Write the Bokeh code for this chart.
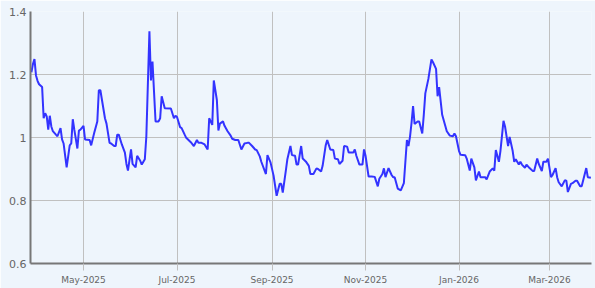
import pandas as pd
from bokeh.plotting import figure
from bokeh.models import Range1d, FixedTicker, DatetimeTickFormatter, CustomJSTickFormatter
from bokeh.embed import file_html
from bokeh.resources import INLINE

start_date = "2025-03-28"

days = [0, 1, 2, 3, 4, 5, 7, 8, 9, 10, 11, 12, 13, 14, 16, 17, 19, 20, 21, 23, 25, 26, 27, 28, 30, 31, 32, 34, 35, 38, 39, 41, 43, 44, 45, 48, 49, 51, 52, 54, 55, 56, 57, 59,
        61, 62, 63, 65, 66, 68, 69, 71, 72, 74, 75, 77, 78, 79, 81, 83, 84, 85, 87, 91, 93, 94, 95, 97, 98, 100, 101, 104, 106, 108, 109, 111, 113, 115, 116, 118, 119,
        121, 122, 123, 125, 126, 128, 130, 131, 133, 135, 137, 139, 141, 142, 144, 146, 147, 149, 150, 153, 154, 156, 158, 160, 162, 163, 164, 166, 167, 169, 170, 172, 173, 174, 176, 177, 179,
        181, 182, 184, 186, 187, 189, 190, 192, 193, 195, 197, 198, 200, 201, 203, 204, 206, 207, 210, 211, 212, 214, 216, 217, 218, 220, 222, 224, 226, 227, 229, 230, 231, 233, 235, 236, 237,
        239, 241, 243, 245, 246, 247, 248, 249, 250, 252, 253, 255, 256, 257, 259, 261, 262, 264, 265, 266, 268, 270, 271, 273, 275, 276, 277, 279, 280, 283, 284, 286, 287, 289, 290, 292, 293, 296, 297,
        299, 301, 302, 303, 305, 306, 308, 309, 311, 312, 314, 315, 316, 318, 319, 320, 322, 323, 325, 327, 328, 330, 331, 333, 334, 336, 337, 339, 340, 342, 343, 344, 346, 348, 349, 350, 352, 353, 355, 356, 358, 359, 360, 362, 363, 365]

values = [1.207, 1.233, 1.249, 1.197, 1.18, 1.169, 1.16, 1.061, 1.077, 1.067, 1.025, 1.069, 1.035, 1.02, 1.009, 1.004, 1.03, 0.994, 0.981, 0.905, 0.975, 0.981, 1.058, 1.025, 0.965, 1.022, 1.025, 1.037, 0.994, 0.992, 0.975, 1.015, 1.051, 1.15, 1.15, 1.061, 1.044, 0.983, 0.981, 0.973, 0.973, 1.009, 1.009, 0.978,
          0.952, 0.916, 0.895, 0.962, 0.916, 0.905, 0.942, 0.926, 0.914, 0.931, 1.004, 1.337, 1.181, 1.241, 1.051, 1.051, 1.061, 1.131, 1.093, 1.092, 1.061, 1.069, 1.065, 1.033, 1.03, 1.009, 0.999, 0.985, 0.973, 0.992, 0.983, 0.983, 0.978, 0.962, 1.061, 1.04, 1.181,
          1.119, 1.022, 1.044, 1.051, 1.037, 1.02, 1.006, 0.996, 0.992, 0.992, 0.962, 0.981, 0.983, 0.983, 0.973, 0.962, 0.96, 0.94, 0.923, 0.884, 0.944, 0.921, 0.879, 0.815, 0.853, 0.853, 0.825, 0.895, 0.931, 0.973, 0.944, 0.942, 0.914, 0.914, 0.973, 0.933, 0.924,
          0.91, 0.884, 0.884, 0.902, 0.9, 0.892, 0.91, 0.975, 0.992, 0.962, 0.96, 0.933, 0.931, 0.916, 0.926, 0.973, 0.971, 0.952, 0.952, 0.962, 0.942, 0.914, 0.914, 0.962, 0.942, 0.876, 0.876, 0.875, 0.845, 0.869, 0.884, 0.902, 0.874, 0.903, 0.881, 0.874, 0.874,
          0.838, 0.832, 0.855, 0.992, 0.973, 1.002, 1.046, 1.1, 1.043, 1.051, 1.051, 1.013, 1.072, 1.14, 1.186, 1.248, 1.239, 1.218, 1.131, 1.16, 1.072, 1.037, 1.02, 1.006, 1.004, 1.013, 1.004, 0.957, 0.945, 0.944, 0.933, 0.895, 0.933, 0.905, 0.864, 0.892, 0.874, 0.874, 0.867,
          0.892, 0.902, 0.895, 0.96, 0.923, 0.957, 1.053, 1.035, 0.973, 1.002, 0.957, 0.923, 0.931, 0.914, 0.923, 0.914, 0.904, 0.914, 0.903, 0.894, 0.894, 0.933, 0.916, 0.893, 0.923, 0.923, 0.933, 0.874, 0.881, 0.903, 0.874, 0.858, 0.845, 0.864, 0.863, 0.827, 0.853, 0.855, 0.863, 0.863, 0.845, 0.845, 0.864, 0.903, 0.874, 0.872]

tick_dates = ["2025-05-01", "2025-07-01", "2025-09-01", "2025-11-01", "2026-01-01", "2026-03-01"]
y_ticks = [0.6, 0.8, 1.0, 1.2, 1.4]

assert len(days) == len(values)

start = pd.Timestamp(start_date)
dates = [(start + pd.Timedelta(days=d)).to_pydatetime() for d in days]

BG = "#eef5fc"
TXT = "#666666"

p = figure(width=595, height=288, x_axis_type="datetime", output_backend="svg",
           toolbar_location=None,
           x_range=Range1d((start - pd.Timedelta(hours=14)).to_pydatetime(),
                           (start + pd.Timedelta(days=365, hours=10)).to_pydatetime()),
           y_range=Range1d(0.6, 1.4),
           min_border_left=30, min_border_right=4, min_border_top=11, min_border_bottom=25)

p.background_fill_color = BG
p.border_fill_color = BG
p.outline_line_color = None

p.line(dates, values, line_color="#3333ff", line_width=2)

tick_ms = [pd.Timestamp(t).value / 1e6 for t in tick_dates]
p.xaxis.ticker = FixedTicker(ticks=tick_ms)
fmt = "%b-%Y"
p.xaxis.formatter = DatetimeTickFormatter(milliseconds=fmt, seconds=fmt, minsec=fmt, minutes=fmt,
                                          hourmin=fmt, hours=fmt, days=fmt, months=fmt, years=fmt)
p.yaxis.ticker = FixedTicker(ticks=y_ticks)
p.yaxis.formatter = CustomJSTickFormatter(code="return String(Math.round(tick*10)/10);")

for ax in (p.xaxis[0], p.yaxis[0]):
    ax.axis_line_color = "#777777"
    ax.axis_line_width = 2
    ax.minor_tick_line_color = None
    ax.major_label_text_color = TXT
    ax.major_label_text_font = "DejaVu Sans"

p.xaxis.major_tick_in = 0
p.xaxis.major_tick_out = 7
p.xaxis.major_tick_line_color = "#c0c0c0"
p.xaxis.major_label_text_font_size = "9px"
p.xaxis.major_label_standoff = 4

p.yaxis.major_tick_line_color = None
p.yaxis.major_tick_in = 0
p.yaxis.major_tick_out = 0
p.yaxis.major_label_text_font_size = "11px"
p.yaxis.major_label_standoff = 4

p.grid.grid_line_color = "#c0c0c0"
p.grid.grid_line_width = 1

open("out.html", "w").write(file_html(p, INLINE))
